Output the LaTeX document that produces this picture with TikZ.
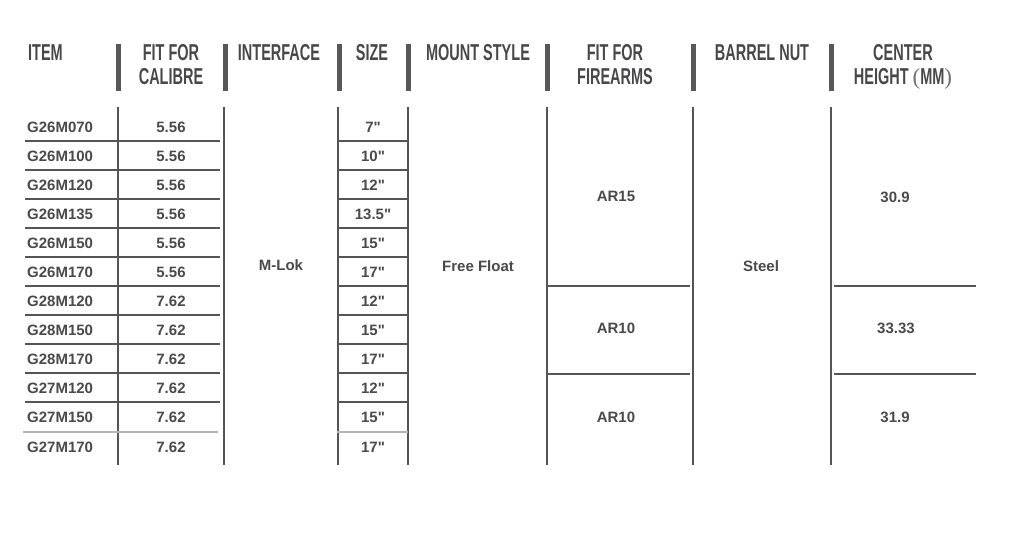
\documentclass[tikz,border=0pt]{standalone}
\usepackage{fontspec}
\setmainfont{Liberation Sans}
\newfontfamily\bodyfont{Liberation Sans}
\newfontfamily\hfont{Liberation Sans}[FakeStretch=0.63]
\newfontfamily\pfont{Liberation Serif}
\definecolor{txt}{HTML}{4A4A4A}
\definecolor{hdc}{HTML}{48484A}
\definecolor{barc}{HTML}{58585A}
\definecolor{rulec}{HTML}{555555}
\definecolor{lightc}{HTML}{B4B4B4}
\definecolor{parc}{HTML}{70707A}
\begin{document}
\begin{tikzpicture}[x=1pt,y=-1pt,
  hd/.style={font=\hfont\bfseries\fontsize{23}{24}\selectfont, text=hdc, align=center, inner sep=0pt, anchor=north},
  cell/.style={font=\bodyfont\bfseries\fontsize{15}{17}\selectfont, text=txt, inner sep=0pt},
  hbar/.style={draw=barc, line width=5pt},
  gridl/.style={draw=rulec, line width=1.2pt},
  lightl/.style={draw=lightc, line width=1.2pt}]
\useasboundingbox (0,0) rectangle (1033,543);
\fill[white] (0,0) rectangle (1033,543);

% header bars
\foreach \x/\n in {118/b1,225/b2,339/b3,408/b4,547/b5,693/b6,831/b7}
  \draw[hbar] (\x,44) coordinate (\n t) -- (\x,91) coordinate (\n b);

% header texts
\node[hd, anchor=north west] (hItem) at (28,44) {ITEM};
\node[hd] (hCal) at (171,44) {FIT FOR\\CALIBRE};
\node[hd] (hInt) at (279,44) {INTERFACE};
\node[hd] (hSize) at (372,44) {SIZE};
\node[hd] (hMount) at (478,44) {MOUNT STYLE};
\node[hd] (hFire) at (615,44) {FIT FOR\\FIREARMS};
\node[hd] (hNut) at (762,44) {BARREL NUT};
\node[hd] (hCen) at (903,44) {CENTER\\HEIGHT {\pfont\mdseries\color{parc}(}MM{\pfont\mdseries\color{parc})}};

% vertical grid lines
\foreach \x/\n in {118/v1,224/v2,338/v3,408/v4,547/v5,693/v6,831/v7}
  \draw[gridl] (\x,107) coordinate (\n t) -- (\x,465) coordinate (\n b);

% horizontal row lines
\foreach \y [count=\i] in {141,170,199,228,257,286,315,344,373,402}{
  \draw[gridl] (25,\y) coordinate (la\i) -- (220,\y) coordinate (lb\i);
  \draw[gridl] (337,\y) coordinate (sa\i) -- (408,\y) coordinate (sb\i);
}
\draw[lightl] (23,432) coordinate (la11) -- (218,432) coordinate (lb11);
\draw[lightl] (337,432) coordinate (sa11) -- (408,432) coordinate (sb11);

% right merged-cell lines
\draw[gridl] (548,286) coordinate (fa1) -- (690,286) coordinate (fb1);
\draw[gridl] (548,374) coordinate (fa2) -- (690,374) coordinate (fb2);
\draw[gridl] (834,286) coordinate (ca1) -- (976,286) coordinate (cb1);
\draw[gridl] (834,374) coordinate (ca2) -- (976,374) coordinate (cb2);

% rows
\foreach \it/\cal/\sz/\y [count=\i] in {
  G26M070/5.56/7"/127,
  G26M100/5.56/10"/156,
  G26M120/5.56/12"/185,
  G26M135/5.56/13.5"/214,
  G26M150/5.56/15"/243,
  G26M170/5.56/17"/272,
  G28M120/7.62/12"/301,
  G28M150/7.62/15"/330,
  G28M170/7.62/17"/359,
  G27M120/7.62/12"/388,
  G27M150/7.62/15"/417,
  G27M170/7.62/17"/447}{
  \node[cell, anchor=west] (item\i) at (27,\y) {\it};
  \node[cell] (cal\i) at (171,\y) {\cal};
  \node[cell] (size\i) at (373,\y) {\sz};
}

% merged cells
\node[cell] (mlok) at (281,265) {M-Lok};
\node[cell] (free) at (478,266) {Free Float};
\node[cell] (ar15) at (616,196) {AR15};
\node[cell] (ar10a) at (616,328) {AR10};
\node[cell] (ar10b) at (616,417) {AR10};
\node[cell] (steel) at (761,266) {Steel};
\node[cell] (c309) at (895,197) {30.9};
\node[cell] (c3333) at (896,328) {33.33};
\node[cell] (c319) at (895,417) {31.9};
\end{tikzpicture}
\end{document}
